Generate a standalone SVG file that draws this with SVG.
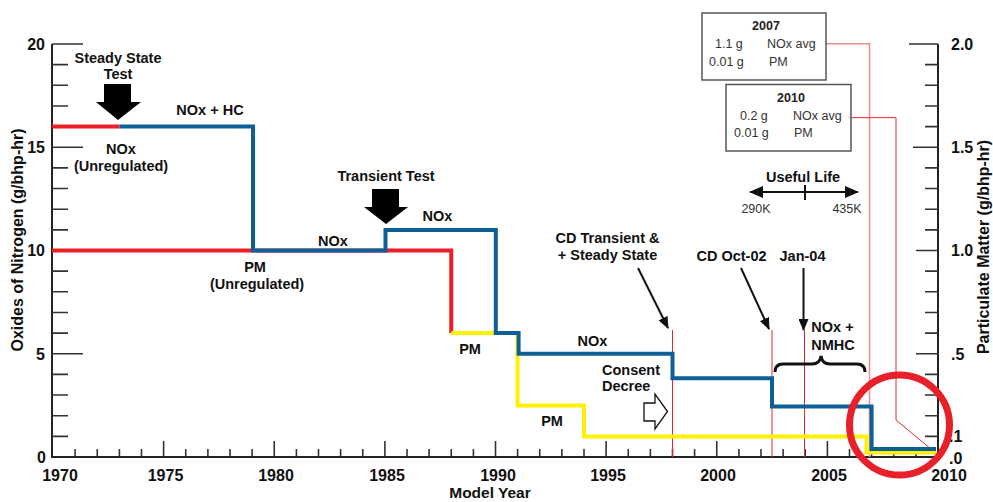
<svg xmlns="http://www.w3.org/2000/svg" width="993" height="502" viewBox="0 0 993 502">
<defs>
<style>
.t{font-family:"Liberation Sans",Arial,sans-serif;font-weight:bold;font-size:14.5px;fill:#111;}
.c{text-anchor:middle;}
.ax{font-family:"Liberation Sans",Arial,sans-serif;font-weight:bold;font-size:16px;fill:#111;}
.bx{font-family:"Liberation Sans",Arial,sans-serif;font-size:12.5px;fill:#333;}
.bxb{font-family:"Liberation Sans",Arial,sans-serif;font-size:12.5px;font-weight:bold;fill:#222;}
.tick{stroke:#333;stroke-width:1.6;fill:none;}
.axis{stroke:#222;stroke-width:2;fill:none;}
.step{fill:none;stroke-width:4;stroke-linejoin:miter;stroke-linecap:butt;}
.thin{fill:none;stroke:#e8262d;stroke-width:1;}
.box{fill:#fff;stroke:#555;stroke-width:1.5;}
.arr{stroke:#111;stroke-width:2;fill:none;marker-end:url(#ah);}
</style>
<marker id="ah" viewBox="0 0 12 10" refX="11" refY="5" markerWidth="12" markerHeight="10" markerUnits="userSpaceOnUse" orient="auto">
<path d="M0,0 L12,5 L0,10 z" fill="#111"/>
</marker>
<marker id="ahs" viewBox="0 0 14 12" refX="13" refY="6" markerWidth="14" markerHeight="12" markerUnits="userSpaceOnUse" orient="auto-start-reverse">
<path d="M0,0 L14,6 L0,12 z" fill="#111"/>
</marker>
</defs>
<rect width="993" height="502" fill="#fff"/>

<g id="axes">
<path class="axis" d="M52 44 V457 H938 V44"/>
<path class="tick" d="M52 44 h31 M52 64.65 h16 M52 85.3 h16 M52 105.95 h16 M52 126.6 h16 M52 147.25 h31 M52 167.9 h16 M52 188.55 h16 M52 209.2 h16 M52 229.85 h16 M52 250.5 h31 M52 271.15 h16 M52 291.8 h16 M52 312.45 h16 M52 333.1 h16 M52 353.75 h31 M52 374.4 h16 M52 395.05 h16 M52 415.7 h16 M52 436.35 h16"/>
<path class="tick" d="M938 44 h-29 M938 64.65 h-13 M938 85.3 h-13 M938 105.95 h-13 M938 126.6 h-13 M938 147.25 h-25 M938 167.9 h-13 M938 188.55 h-13 M938 209.2 h-13 M938 229.85 h-13 M938 250.5 h-22 M938 271.15 h-13 M938 291.8 h-13 M938 312.45 h-13 M938 333.1 h-13 M938 353.75 h-22 M938 374.4 h-13 M938 395.05 h-13 M938 415.7 h-13 M938 436.35 h-13"/>
<path class="tick" d="M75.1 457 v-8 M97.25 457 v-8 M119.4 457 v-8 M141.5 457 v-8 M163.6 457 v-16 M185.75 457 v-8 M207.9 457 v-8 M230 457 v-8 M252.1 457 v-8 M274.25 457 v-16 M296.4 457 v-8 M318.5 457 v-8 M340.6 457 v-8 M362.75 457 v-8 M384.9 457 v-16 M407 457 v-8 M429.1 457 v-8 M451.25 457 v-8 M473.4 457 v-8 M495.5 457 v-16 M517.6 457 v-8 M539.75 457 v-8 M561.9 457 v-8 M584 457 v-8 M606.1 457 v-16 M628.25 457 v-8 M650.4 457 v-8 M672.5 457 v-8 M694.6 457 v-8 M716.75 457 v-16 M738.9 457 v-8 M761 457 v-8 M783.1 457 v-8 M805.25 457 v-8 M827.4 457 v-16 M849.5 457 v-8 M871.6 457 v-8 M893.75 457 v-8 M915.9 457 v-8"/>
<g class="ax" text-anchor="end">
<text x="45" y="50">20</text>
<text x="45" y="153">15</text>
<text x="45" y="256">10</text>
<text x="45" y="360">5</text>
<text x="46" y="463">0</text>
</g>
<g class="ax">
<text x="951" y="50">2.0</text>
<text x="951" y="153">1.5</text>
<text x="951" y="256">1.0</text>
<text x="951" y="360">.5</text>
<text x="949" y="442">.1</text>
<text x="949" y="464">.0</text>
</g>
<g class="ax" text-anchor="middle">
<text x="60" y="481">1970</text>
<text x="165.5" y="481">1975</text>
<text x="276" y="481">1980</text>
<text x="387" y="481">1985</text>
<text x="498" y="481">1990</text>
<text x="608" y="481">1995</text>
<text x="718" y="481">2000</text>
<text x="829" y="481">2005</text>
<text x="949" y="481">2010</text>
<text x="490" y="498" font-size="15.5">Model Year</text>
<text transform="translate(23 240) rotate(-90)">Oxides of Nitrogen (g/bhp-hr)</text>
<text transform="translate(989 247) rotate(-90)">Particulate Matter (g/bhp-hr)</text>
</g>
</g>

<g id="connectors">
<path class="thin" d="M672.5 330 V457 M772 330 V457 M804.5 330 V457"/>
<path fill="none" stroke="#f08a8a" stroke-width="1.5" d="M826 43.7 H869.5 V457"/>
<path class="thin" d="M851 117.7 H896 V420 L937 454"/>
<path class="arr" d="M638 268 L668 328"/>
<path class="arr" d="M741 268 L769 329"/>
<path class="arr" d="M803.5 268 V330"/>
<path stroke="#111" stroke-width="2" fill="none" marker-start="url(#ahs)" marker-end="url(#ahs)" d="M750 192 H858"/>
<path stroke="#111" stroke-width="2" d="M805 185 V200"/>
</g>

<g id="series">
<path class="step" stroke="#ee1c25" d="M52 126.6 H119.4"/>
<path class="step" stroke="#ee1c25" d="M52 250.5 H451.25 V333.1"/>
<path class="step" stroke="#fff200" d="M451.25 333.1 H517.6 V405.4 H584 V436.4 H866.5 V452.5 H936"/>
<path class="step" stroke="#0d5f98" d="M119.4 126.6 H253 V250.5 H385.5 V230 H495.8 V333.1 H518.6 V353.8 H672.5 V378.3 H772 V406.5 H871.6 V449 H936"/>
</g>

<g id="steady-state-test">
<text class="t c" x="118" y="63">Steady State</text>
<text class="t c" x="118" y="79">Test</text>
<polygon points="104,84 131,84 131,102 141,102 118,120 96,102 104,102" fill="#000"/>
</g>
<g id="transient-test">
<text class="t c" x="386" y="181">Transient Test</text>
<polygon points="372,189 399,189 399,207 408,207 386,224 364,207 372,207" fill="#000"/>
</g>
<g id="label-noxhc"><text class="t c" x="210" y="115">NOx + HC</text></g>
<g id="label-nox-unreg">
<text class="t c" x="121" y="154">NOx</text>
<text class="t c" x="121" y="171">(Unregulated)</text>
</g>
<g id="label-pm-unreg">
<text class="t c" x="255" y="272">PM</text>
<text class="t c" x="257" y="289">(Unregulated)</text>
</g>
<g id="label-nox-1980"><text class="t c" x="333" y="246">NOx</text></g>
<g id="label-nox-1985"><text class="t c" x="437.5" y="221">NOx</text></g>
<g id="label-pm-1988"><text class="t c" x="470" y="354">PM</text></g>
<g id="label-nox-1991"><text class="t c" x="592.5" y="346">NOx</text></g>
<g id="label-pm-1991"><text class="t c" x="552" y="426">PM</text></g>
<g id="consent-decree">
<text class="t" x="602" y="375">Consent</text>
<text class="t" x="602" y="391">Decree</text>
<polygon points="644,403 655,403 655,394 667.5,411.5 655,429 655,421 644,421" fill="#fff" stroke="#111" stroke-width="1.3"/>
</g>
<g id="cd-transient">
<text class="t c" x="607.5" y="243">CD Transient &amp;</text>
<text class="t c" x="607.5" y="260">+ Steady State</text>
</g>
<g id="cd-oct02"><text class="t c" x="731.5" y="260.5">CD Oct-02</text></g>
<g id="jan04"><text class="t c" x="802.5" y="260.5">Jan-04</text></g>
<g id="nox-nmhc">
<text class="t c" x="832.5" y="331.5">NOx +</text>
<text class="t c" x="833" y="349.5">NMHC</text>
<path d="M775 372 Q775 364 783 364 L812 364 Q820 364 821 356 Q822 364 830 364 L857 364 Q865 364 865 372" fill="none" stroke="#111" stroke-width="3"/>
</g>
<g id="box-2007">
<rect class="box" x="702" y="13" width="124" height="67"/>
<text class="bxb" x="766" y="30" text-anchor="middle">2007</text>
<text class="bx" x="715" y="48">1.1 g</text>
<text class="bx" x="767" y="48">NOx avg</text>
<text class="bx" x="709" y="65.5">0.01 g</text>
<text class="bx" x="769" y="65.5">PM</text>
</g>
<g id="box-2010">
<rect class="box" x="726" y="84.5" width="125" height="66.5"/>
<text class="bxb" x="791" y="101.5" text-anchor="middle">2010</text>
<text class="bx" x="740" y="120">0.2 g</text>
<text class="bx" x="793" y="120">NOx avg</text>
<text class="bx" x="734" y="136.5">0.01 g</text>
<text class="bx" x="794" y="136.5">PM</text>
</g>
<g id="useful-life">
<text class="t c" x="803" y="182" font-size="13.5">Useful Life</text>
<text class="bx" x="756" y="213" text-anchor="middle">290K</text>
<text class="bx" x="847" y="213" text-anchor="middle">435K</text>
</g>
<g id="highlight-circle">
<circle cx="899.5" cy="425" r="50" fill="none" stroke="#e8202a" stroke-width="7"/>
</g>
</svg>
